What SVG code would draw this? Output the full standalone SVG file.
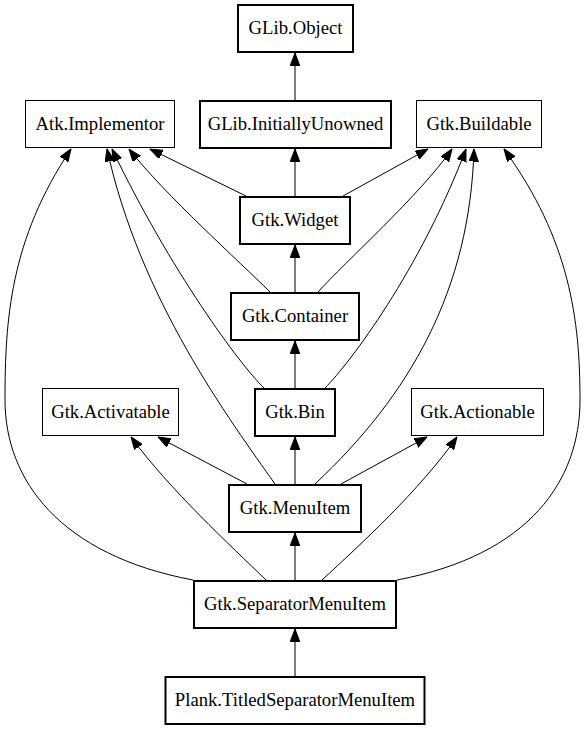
<svg xmlns="http://www.w3.org/2000/svg" width="584" height="731" viewBox="0 0 584 731">
<style>
.n rect{fill:#fff;stroke:#000;stroke-width:1}
.b rect{stroke-width:2}
.n text{font-family:"Liberation Serif","Times New Roman",serif;font-size:18.67px;text-anchor:middle;fill:#000}
#edges path{fill:none;stroke:#000;stroke-width:1;marker-end:url(#ah)}
</style>
<defs>
<marker id="ah" markerUnits="userSpaceOnUse" markerWidth="13" markerHeight="10" refX="12.5" refY="4.7" orient="auto">
<path d="M0,0 L12.5,4.7 L0,9.4 z" fill="#000" stroke="#000" stroke-width="1"/>
</marker>
</defs>
<rect width="584" height="731" fill="#fff"/>
<g id="edges">
<path d="M295,100 L295,53"/>
<path d="M295,196 L295,149"/>
<path d="M246,196 L150,149"/>
<path d="M343,196 L428,149"/>
<path d="M295,292 L295,245"/>
<path d="M270,292 C240,262 165,195 129,149"/>
<path d="M318,292 C345,262 420,195 452,149"/>
<path d="M295,388 L295,341"/>
<path d="M264,388 C240,365 170,270 112,149"/>
<path d="M325,388 C350,363 420,270 466,149"/>
<path d="M295,484 L295,437"/>
<path d="M247,484 L158,437"/>
<path d="M341,484 L427,437"/>
<path d="M275,484 C230,420 140,300 107,149"/>
<path d="M315,484 C410,395 470,290 474,149"/>
<path d="M295,580 L295,533"/>
<path d="M266,580 C230,545 170,490 131,437"/>
<path d="M322,580 C360,545 420,490 457,437"/>
<path d="M193,580 C60,555 5,480 5,400 C5,320 10,240 71,149"/>
<path d="M397,580 C530,555 580,480 580,400 C580,320 570,240 504,149"/>
<path d="M295,676 L295,629"/>
</g>
<g id="glib_object" class="n b"><rect x="238" y="5" width="115" height="47"/><text x="295.5" y="34">GLib.Object</text></g>
<g id="atk_implementor" class="n"><rect x="25.5" y="100.5" width="149" height="47"/><text x="100" y="130">Atk.Implementor</text></g>
<g id="glib_initiallyunowned" class="n b"><rect x="200" y="101" width="191" height="47"/><text x="295.5" y="130">GLib.InitiallyUnowned</text></g>
<g id="gtk_buildable" class="n"><rect x="416.5" y="100.5" width="125" height="47"/><text x="479" y="130">Gtk.Buildable</text></g>
<g id="gtk_widget" class="n b"><rect x="240" y="197" width="110" height="47"/><text x="295" y="226">Gtk.Widget</text></g>
<g id="gtk_container" class="n b"><rect x="231" y="293" width="128" height="47"/><text x="295" y="322">Gtk.Container</text></g>
<g id="gtk_activatable" class="n"><rect x="42.5" y="388.5" width="136" height="47"/><text x="110.5" y="418">Gtk.Activatable</text></g>
<g id="gtk_bin" class="n b"><rect x="255" y="389" width="80" height="47"/><text x="295" y="418">Gtk.Bin</text></g>
<g id="gtk_actionable" class="n"><rect x="411.5" y="388.5" width="132" height="47"/><text x="477.5" y="418">Gtk.Actionable</text></g>
<g id="gtk_menuitem" class="n b"><rect x="229" y="485" width="132" height="47"/><text x="295" y="514">Gtk.MenuItem</text></g>
<g id="gtk_separatormenuitem" class="n b"><rect x="194" y="581" width="202" height="47"/><text x="295" y="610">Gtk.SeparatorMenuItem</text></g>
<g id="plank_titledseparatormenuitem" class="n b"><rect x="165.5" y="677" width="259" height="47"/><text x="295" y="706">Plank.TitledSeparatorMenuItem</text></g>
</svg>
